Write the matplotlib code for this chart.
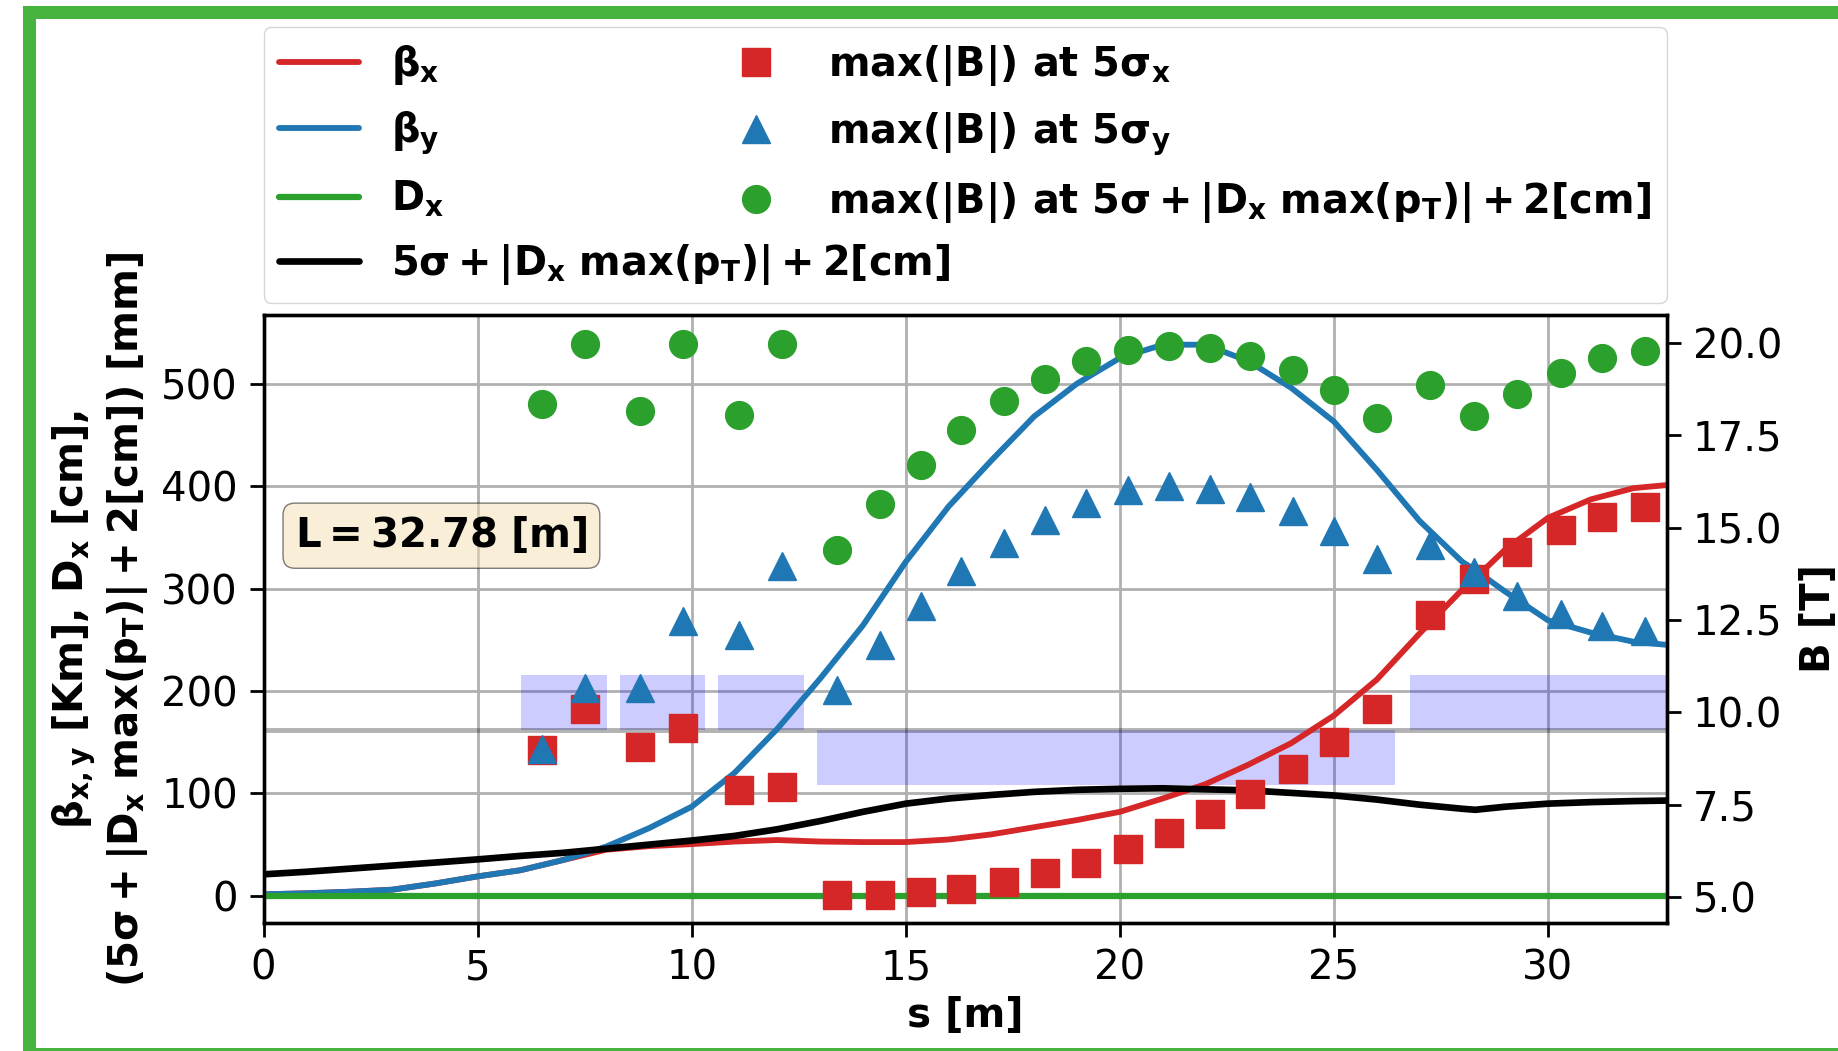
import matplotlib
matplotlib.use("Agg")
import matplotlib.pyplot as plt
from matplotlib.patches import Rectangle

plt.rcParams['font.family'] = ['DejaVu Sans']
plt.rcParams['mathtext.fontset'] = 'dejavusans'
plt.rcParams['mathtext.default'] = 'bf'

# ---------------- data ----------------
L_total = 32.78

s_line = [0, 1, 2, 3, 4, 5, 6, 7, 8, 9, 10, 11, 12, 13, 14, 15, 16, 17, 18, 19,
          20, 21, 22, 23, 24, 25, 26, 27, 28, 28.3, 29, 30, 31, 32, 32.78]
beta_x = [1.5, 2.5, 4, 6, 12, 19, 25, 35, 45, 48.5, 50.5, 53, 54.5, 53, 52.5, 52.5, 55, 60, 67, 74,
          82, 95, 109, 128, 149, 176, 211, 256, 299, 310, 338, 369, 387, 398, 401]
beta_y = [1.5, 2.5, 4, 6, 12, 19, 25, 35, 48, 66, 87, 120, 163, 212, 264, 326, 380, 425, 468, 500,
          525, 538, 538, 522, 496, 463, 416, 366, 326, 318, 297, 269, 257, 248, 245]
D_x = [0] * len(s_line)
envelope = [21, 23.5, 26.5, 29.5, 32.5, 35.6, 39, 42, 46, 50, 54, 58.5, 65, 73, 82, 90, 95, 98.5, 101.5, 103.5,
            104.5, 105, 104, 103, 100.5, 98, 94, 89, 85, 84, 87, 90, 91.5, 92.5, 93]

s_mk = [6.5, 7.5, 8.8, 9.8, 11.1, 12.1, 13.4, 14.4, 15.35, 16.3, 17.3, 18.25, 19.2, 20.2,
        21.15, 22.1, 23.05, 24.05, 25.0, 26.0, 27.25, 28.27, 29.28, 30.3, 31.27, 32.27]
B_5sx = [8.98, 10.08, 9.07, 9.58, 7.91, 7.99, 5.05, 5.05, 5.14, 5.23, 5.42, 5.66, 5.93, 6.31,
         6.73, 7.25, 7.80, 8.47, 9.2, 10.1, 12.65, 13.6, 14.34, 14.95, 15.3, 15.55]
B_5sy = [9.0, 10.66, 10.66, 12.47, 12.11, 13.97, 10.61, 11.82, 12.88, 13.82, 14.6, 15.21, 15.66, 16.02,
         16.12, 16.06, 15.82, 15.46, 14.9, 14.16, 14.53, 13.81, 13.14, 12.66, 12.33, 12.2]
B_env = [18.34, 19.98, 18.15, 19.98, 18.05, 19.98, 14.41, 15.63, 16.7, 17.64, 18.42, 19.03, 19.51, 19.8,
         19.92, 19.87, 19.65, 19.27, 18.72, 17.96, 18.86, 18.02, 18.62, 19.19, 19.6, 19.78]

# lattice layout (start, length, side: +1 above / -1 below the reference line)
lat_start = [6.02, 8.32, 10.62, 12.92, 26.77]
lat_len = [2.0, 2.0, 2.0, 13.5, 6.01]
lat_side = [1, 1, 1, -1, 1]
lat_ref = 162
lat_h = 54

xticks = [0, 5, 10, 15, 20, 25, 30]
yticks_left = [0, 100, 200, 300, 400, 500]
yticks_right = [5.0, 7.5, 10.0, 12.5, 15.0, 17.5, 20.0]

# ---------------- figure ----------------
W, H = 1838, 1051
fig = plt.figure(figsize=(W / 100, H / 100), dpi=100)
ax = fig.add_axes([263.5 / W, (H - 923) / H, (1667 - 263.5) / W, (923 - 315) / H])
ax2 = ax.twinx()

frame_c = '#46b43e'
for (x0, y0, w, h) in [(23, 6, 13, 1045), (23, 6, W - 23, 13), (23, 1048, W - 23, 5)]:
    fig.add_artist(Rectangle((x0 / W, 1 - (y0 + h) / H), w / W, h / H,
                             transform=fig.transFigure, color=frame_c, lw=0))

c_red, c_blue, c_green = '#d62728', '#1f77b4', '#2ca02c'

ax.grid(True, color='#b0b0b0', lw=2.0)
ax.set_axisbelow(True)

ax.bar(lat_start, [lat_h * d for d in lat_side], width=lat_len, bottom=lat_ref,
       align='edge', color='blue', alpha=0.2, lw=0, zorder=1)
ax.axhline(lat_ref, color='k', alpha=0.3, lw=3.5, zorder=1.5)

lkw = dict(solid_joinstyle='round', solid_capstyle='round', zorder=3)
l1, = ax.plot(s_line, beta_x, color=c_red, lw=4.2, label=r'$\beta_x$', **lkw)
l2, = ax.plot(s_line, beta_y, color=c_blue, lw=4.2, label=r'$\beta_y$', **lkw)
l3, = ax.plot(s_line, D_x, color=c_green, lw=4.5, label=r'$D_x$', **lkw)
l4, = ax.plot(s_line, envelope, color='k', lw=4.8,
              label=r'$5\sigma + |D_x\ max(p_T)| + 2[cm]$', **lkw)

m1, = ax2.plot(s_mk, B_5sx, 's', color=c_red, ms=20, label=r'max(|B|) at $5\sigma_x$')
m2, = ax2.plot(s_mk, B_5sy, '^', color=c_blue, ms=20, label=r'max(|B|) at $5\sigma_y$')
m3, = ax2.plot(s_mk, B_env, 'o', color=c_green, ms=20,
               label=r'max(|B|) at $5\sigma + |D_x\ max(p_T)| + 2[cm]$')

ax.set_xlim(0, L_total)
ax.set_ylim(-26.5, 567)
ax2.set_ylim(4.30, 20.76)
ax.set_xticks(xticks)
ax.set_yticks(yticks_left)
ax2.set_yticks(yticks_right)

for a in (ax, ax2):
    a.tick_params(labelsize=29, length=10, width=2.0, pad=8.5)
    for sp in a.spines.values():
        sp.set_linewidth(2.4)

ax.set_xlabel('s [m]', fontsize=29, fontweight='bold', labelpad=5)
ax.set_ylabel(r'$\beta_{x,y}$ [Km], $D_x$ [cm],' + '\n' +
              r'($5\sigma + |D_x\ max(p_T)| + 2$[cm]) [mm]',
              fontsize=29, fontweight='bold', labelpad=8)
ax2.set_ylabel('B [T]', fontsize=29, fontweight='bold', labelpad=12)

ax.text(0.0225, 0.637, r'$L = 32.78\ [m]$', transform=ax.transAxes, fontsize=29,
        fontweight='bold', ha='left', va='center', zorder=10,
        bbox=dict(boxstyle='round', facecolor='wheat', alpha=0.5, pad=0.3))

handles = [l1, l2, l3, l4, m1, m2, m3]
ax.legend(handles=handles, loc='lower left', bbox_to_anchor=(0, 1.02, 1, 0.2),
          mode='expand', ncol=2, prop={'size': 28.7, 'weight': 'bold'},
          handlelength=2.0, labelspacing=0.56, borderaxespad=0)

fig.savefig('out.png', dpi=100)
